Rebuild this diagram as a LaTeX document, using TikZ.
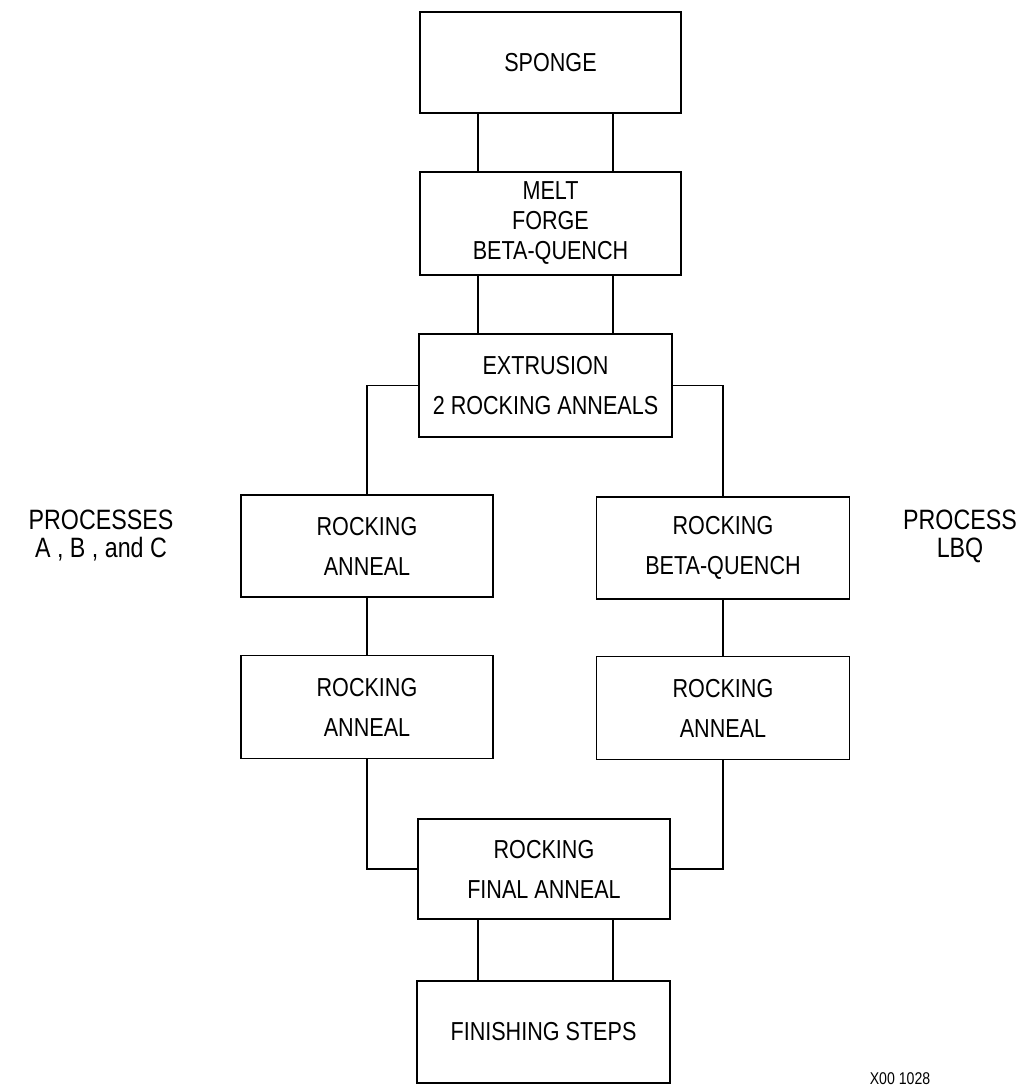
\documentclass[tikz,border=0pt]{standalone}
\usepackage{fontspec}
\setmainfont{Liberation Sans}[FakeStretch=0.83]

\begin{document}
\begin{tikzpicture}[x=1pt,y=-1pt,
    stepbox/.style={draw,line width=1.6pt,inner sep=0pt,align=center,
      minimum width=252pt,minimum height=102pt,
      font=\fontsize{26}{40}\selectfont},
    link/.style={line width=1.3pt},
    sidelabel/.style={align=center,inner sep=0pt,font=\fontsize{28}{28}\selectfont}]
  \useasboundingbox (0,0) rectangle (1026,1088);

  % main chain
  \node[stepbox,minimum width=261pt,minimum height=101pt] (sponge) at (550.5,62.5) {SPONGE};
  \node[stepbox,minimum width=261pt,minimum height=103pt,
        font=\fontsize{26}{30}\selectfont] (melt) at (550.5,223.5) {MELT\\FORGE\\BETA-QUENCH};
  \node[stepbox,minimum width=253pt,minimum height=103pt] (extr) at (545.5,385.5) {EXTRUSION\\2 ROCKING ANNEALS};

  % two branches
  \node[stepbox] (rockA1) at (367,546) {ROCKING\\ANNEAL};
  \node[stepbox,minimum width=253pt] (rockB1) at (723,548) {ROCKING\\BETA-QUENCH};
  \node[stepbox,minimum height=103pt] (rockA2) at (367,707) {ROCKING\\ANNEAL};
  \node[stepbox,minimum width=253pt,minimum height=103pt] (rockB2) at (723,708) {ROCKING\\ANNEAL};

  % end of chain
  \node[stepbox,minimum width=252pt,minimum height=100pt] (final) at (544,869) {ROCKING\\FINAL ANNEAL};
  \node[stepbox,minimum width=253pt] (finish) at (543.5,1032) {FINISHING STEPS};

  % labels
  \node[sidelabel] (procABC) at (101,536) {PROCESSES\\A , B , and C};
  \node[sidelabel] (procLBQ) at (960,536) {PROCESS\\LBQ};
  \node[font=\fontsize{17}{17}\selectfont,anchor=north,inner sep=0pt] (figno) at (900,1072) {X00 1028};

  % double connectors
  \coordinate (lx) at (478,0);
  \coordinate (rx) at (613,0);
  \foreach \a/\b in {sponge/melt,melt/extr,final/finish}{
    \draw[link] (lx |- \a.south) -- (lx |- \b.north);
    \draw[link] (rx |- \a.south) -- (rx |- \b.north);
  }

  % branch connectors
  \draw[link] (extr.west) -| (rockA1.north);
  \draw[link] (extr.east) -| (rockB1.north);
  \draw[link] (rockA1.south) -- (rockA2.north);
  \draw[link] (rockB1.south) -- (rockB2.north);
  \draw[link] (rockA2.south) |- (final.west);
  \draw[link] (rockB2.south) |- (final.east);
\end{tikzpicture}
\end{document}
